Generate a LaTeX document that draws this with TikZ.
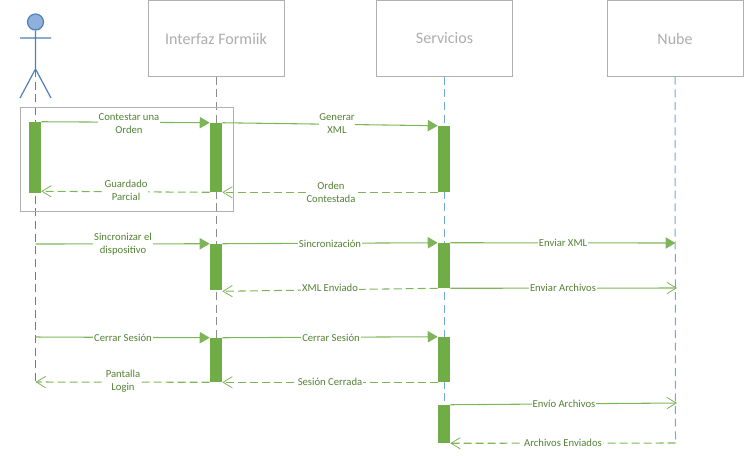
\documentclass[tikz,border=0pt]{standalone}
\usepackage{fontspec}
\setmainfont{Carlito}
\usetikzlibrary{arrows.meta}
\definecolor{grn}{HTML}{70AD47}
\definecolor{grnline}{HTML}{7FB55A}
\definecolor{grntext}{HTML}{548235}
\definecolor{boxgray}{HTML}{B0B0B0}
\definecolor{titlegray}{HTML}{ADADAD}
\definecolor{lifegray}{HTML}{8C8C8C}
\definecolor{lifeblue}{HTML}{6FA8DC}
\definecolor{actorblue}{HTML}{4F81B5}
\definecolor{actorfill}{HTML}{8DB0DD}
\tikzset{
  x=0.75pt,y=-0.75pt,
  party/.style={draw=boxgray,line width=0.75pt,fill=white,minimum width=102pt,minimum height=56.5pt,inner sep=0pt,text=titlegray,font=\fontsize{12}{14}\selectfont},
  act/.style={fill=grn,draw=none,minimum width=9pt,minimum height=#1*0.75pt,inner sep=0pt},
  life/.style={line width=0.75pt,dash pattern=on 6pt off 3.5pt},
  syncmsg/.style={draw=grnline,line width=0.8pt,-{Triangle[length=7.5pt,width=8.5pt,fill=grnline]}},
  openmsg/.style={draw=grnline,line width=0.8pt,-{Straight Barb[length=7pt,width=8.5pt,line width=0.6pt]}},
  backmsg/.style={openmsg,dash pattern=on 6pt off 3pt},
  lbl/.style={fill=white,text=grntext,align=center,inner sep=0.6pt,font=\fontsize{8}{9.75}\selectfont},
}
\begin{document}
\begin{tikzpicture}
\useasboundingbox (0,0) rectangle (745,455);
% participants
\node[party] (pi) at (216,38.5) {Interfaz Formiik};
\node[party] (ps) at (444.5,38.5) {Servicios};
\node[party] (pn) at (675,38.5) {Nube};
% actor
\node[circle,draw=actorblue,fill=actorfill,line width=0.9pt,minimum size=12pt,inner sep=0pt] (head) at (35.5,22) {};
\coordinate (hip) at (35.5,69);
\coordinate (armL) at (20,38);
\coordinate (armR) at (51,38);
\coordinate (legL) at (20,98);
\coordinate (legR) at (51,98);
\draw[actorblue,line width=0.9pt] (head.south) -- (hip) (armL) -- (armR) (legL) -- (hip) -- (legR);
% lifeline ends
\coordinate (endA) at (35.5,382);
\coordinate (endI) at (216,340);
\coordinate (endS) at (444.5,405);
\coordinate (endN) at (675.5,443);
\draw[life,actorblue] (hip) -- (endA);
\draw[life,lifegray] (pi.south) -- (endI);
\draw[life,lifeblue] (ps.south) -- (endS);
\draw[life,lifeblue] (pn.south) -- (endN);
% frame
\node[draw=boxgray,line width=0.75pt,minimum width=159.75pt,minimum height=78pt,inner sep=0pt] (frame) at (126.5,159) {};
% activations
\node[act=71] (a1) at (35,157.5) {};
\node[act=69] (i1) at (216,157.5) {};
\node[act=66] (s1) at (444,159) {};
\node[act=46] (i2) at (216,267) {};
\node[act=45] (s2) at (444,265.5) {};
\node[act=44] (i3) at (216,360) {};
\node[act=45] (s3) at (444,359.5) {};
\node[act=38] (s4) at (444,424) {};
% free ends on lifelines
\coordinate (a2) at (35.5,244);
\coordinate (a3) at (35.5,337);
\coordinate (n1) at (675.5,243);
\coordinate (n2) at (677,288);
\coordinate (n3) at (677,403);
% messages
\draw[syncmsg] (a1.north east) -- (i1.north west);
\draw[syncmsg] (i1.north east) -- (s1.north west);
\draw[backmsg] (i1.south west) -- ([yshift=1.5pt]a1.south east);
\draw[backmsg] (s1.south west) -- (i1.south east);
\draw[syncmsg] (a2) -- (i2.north west);
\draw[syncmsg] (i2.north east) -- (s2.north west);
\draw[syncmsg] (s2.north east) -- (n1);
\draw[backmsg] (s2.south west) -- ([yshift=-0.75pt]i2.south east);
\draw[openmsg] (s2.south east) -- (n2);
\draw[syncmsg] (a3) -- (i3.north west);
\draw[syncmsg] (i3.north east) -- (s3.north west);
\draw[backmsg] (i3.south west) -- (endA);
\draw[backmsg] (s3.south west) -- (i3.south east);
\draw[openmsg] (s4.north east) -- (n3);
\draw[backmsg] (endN) -- (s4.south east);
% labels
\node[lbl] (l1) at (129,123.5) {Contestar una\\Orden};
\node[lbl] (l2) at (337,124) {Generar\\XML};
\node[lbl] (l3) at (126,190.5) {Guardado\\Parcial};
\node[lbl] (l4) at (331,192) {Orden\\Contestada};
\node[lbl] (l5) at (123,244.5) {Sincronizar el\\dispositivo};
\node[lbl] (l6) at (330,243.5) {Sincronización};
\node[lbl] (l7) at (563,243) {Enviar XML};
\node[lbl] (l8) at (330,288) {XML Enviado};
\node[lbl] (l9) at (563,288) {Enviar Archivos};
\node[lbl] (l10) at (123,338) {Cerrar Sesión};
\node[lbl] (l11) at (331,338) {Cerrar Sesión};
\node[lbl] (l12) at (123,381.5) {Pantalla\\Login};
\node[lbl] (l13) at (330,382) {Sesión Cerrada};
\node[lbl] (l14) at (564,404) {Envío Archivos};
\node[lbl] (l15) at (563,443) {Archivos Enviados};
\end{tikzpicture}
\end{document}
